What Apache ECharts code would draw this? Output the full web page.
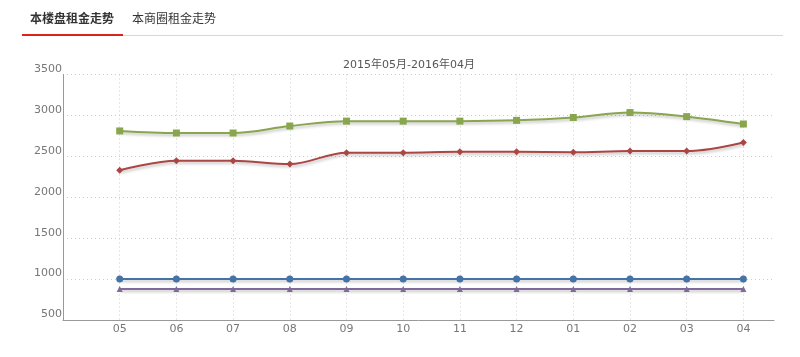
<!DOCTYPE html>
<html>
<head>
<meta charset="utf-8">
<script src="https://cdn.jsdelivr.net/npm/echarts@6/dist/echarts.min.js"></script>
<style>
html,body{margin:0;padding:0;background:#fff;}
#wrap{position:relative;width:800px;height:357px;overflow:hidden;}
#chart{position:absolute;left:0;top:0;width:800px;height:357px;}
.tab{position:absolute;top:9px;font-family:"Noto Sans CJK SC",sans-serif;font-size:12px;color:#333;line-height:18px;z-index:2;}
#t1{left:30px;font-weight:bold;}
#t2{left:132px;}
#lineGrey{position:absolute;left:22px;top:35px;width:761px;height:1px;background:#d8d8d8;z-index:2;}
#lineRed{position:absolute;left:22px;top:34px;width:101px;height:2px;background:#d9231b;z-index:3;}
</style>
</head>
<body>
<div id="wrap">
  <div id="chart"></div>
  <div class="tab" id="t1">本楼盘租金走势</div>
  <div class="tab" id="t2">本商圈租金走势</div>
  <div id="lineGrey"></div>
  <div id="lineRed"></div>
</div>
<script>
var titleText = '2015年05月-2016年04月';
var months = ['05','06','07','08','09','10','11','12','01','02','03','04'];
var yTicks = [500, 1000, 1500, 2000, 2500, 3000, 3500];
var blueVals   = [1000,1000,1000,1000,1000,1000,1000,1000,1000,1000,1000,1000];
var redVals    = [2330,2445,2445,2405,2545,2545,2555,2555,2550,2565,2565,2670];
var greenVals  = [2810,2785,2785,2870,2930,2930,2930,2940,2975,3035,2985,2895];
var purpleVals = [880,880,880,880,880,880,880,880,880,880,880,880];

function pairs(vals){ return vals.map(function(v,i){ return [i+1, v]; }); }
var tickIdx = [0].concat(months.map(function(m,i){return i+1;}));
var labelIdx = months.map(function(m,i){return i+1;});

var chart = echarts.init(document.getElementById('chart'));
var shadow = {shadowColor:'rgba(0,0,0,0.25)', shadowBlur:3, shadowOffsetX:1, shadowOffsetY:2};
function mk(name, vals, color, symbol, size){
  return {
    name:name, type:'line', data:pairs(vals), smooth:0.35,
    symbol:symbol, symbolSize:size, showSymbol:true,
    lineStyle:Object.assign({color:color, width:2}, shadow),
    itemStyle:{color:color},
    emphasis:{disabled:true}, animation:false
  };
}
chart.setOption({
  animation:false,
  title:{text:titleText, left:338, top:55,
    textStyle:{fontSize:11, fontWeight:'normal', color:'#555', fontFamily:'DejaVu Sans, Noto Sans CJK SC'}},
  grid:{left:63, right:26, top:74.5, bottom:37, containLabel:false},
  xAxis:{
    type:'value', min:0, max:12.54, interval:1,
    axisLine:{show:true, lineStyle:{color:'#999', width:1}},
    axisTick:{show:false, customValues:tickIdx},
    axisLabel:{customValues:labelIdx, color:'#777', fontSize:11, fontFamily:'DejaVu Sans', margin:4,
      formatter:function(v){ var i = Math.round(v)-1; return (i>=0 && i<months.length) ? months[i] : ''; }},
    splitLine:{show:true, lineStyle:{color:'#ccc', type:[1,3], width:1}}
  },
  yAxis:{
    type:'value', min:500, max:3500, interval:500,
    axisLine:{show:true, lineStyle:{color:'#999', width:1}},
    axisTick:{show:false},
    axisLabel:{color:'#777', fontSize:11, fontFamily:'DejaVu Sans', margin:1,
      verticalAlign:'bottom', lineHeight:11,
      formatter:function(v){ return yTicks.indexOf(v) >= 0 ? String(v) : ''; }},
    splitLine:{show:true, lineStyle:{color:'#ccc', type:[1,3], width:1}}
  },
  series:[
    mk('blue', blueVals, '#4572A7', 'circle', 7),
    mk('red', redVals, '#AA4643', 'diamond', 7),
    mk('green', greenVals, '#89A54E', 'rect', 7),
    mk('purple', purpleVals, '#80699B', 'triangle', 6)
  ]
});
</script>
</body>
</html>
